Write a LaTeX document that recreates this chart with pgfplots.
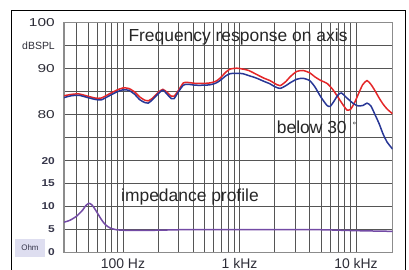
\documentclass[border=0pt]{standalone}
\usepackage{graphicx}
\usepackage{pgfplots}
\usepackage{pgfplotstable}
\pgfplotsset{compat=1.18}
\usepackage{fontspec}
\setmainfont{Liberation Sans}
\definecolor{cred}{RGB}{228,38,40}
\definecolor{cblue}{RGB}{40,55,150}
\definecolor{cpurp}{RGB}{115,75,165}
\definecolor{cgrid}{RGB}{85,85,85}
\definecolor{clab}{RGB}{45,45,55}
\definecolor{olab}{RGB}{55,55,75}
\definecolor{obox}{RGB}{222,222,240}
\newcommand{\dbl}[1]{{\fontsize{11.5}{12}\selectfont\color{clab}\scalebox{1.35}[1]{#1}}}
\newcommand{\ohl}[1]{{\fontsize{10}{11}\selectfont\bfseries\color{olab}\scalebox{1.2}[1]{#1}}}

\pgfplotstableread{
f db
31.2 84.1
36 84.4
42 84.5
50 84.0
58 83.6
65 83.6
75 84.4
88 85.3
100 85.8
112 85.7
125 85.0
140 83.8
155 83.1
165 83.0
180 83.6
200 84.8
220 85.5
240 84.8
260 84.0
275 84.0
300 85.3
330 86.9
360 87.0
420 86.8
500 86.8
560 86.9
620 87.2
680 87.9
760 89.2
830 89.9
950 90.1
1070 89.9
1200 89.6
1413 88.7
1600 88.0
1827 87.4
2000 86.8
2228 86.3
2500 87.2
2712 88.2
3100 89.4
3508 89.6
4000 89.1
4446 88.2
5000 87.4
5637 86.8
6300 85.5
7000 83.8
7700 82.2
8367 81.0
9000 81.2
9800 82.8
10400 84.3
11400 86.5
12420 87.4
13400 86.6
14550 85.2
15800 83.6
17050 82.3
18500 81.2
20560 80.2
}\onaxis

\pgfplotstableread{
f db
31.2 83.7
36 84.1
42 84.2
50 83.7
58 83.3
65 83.2
75 84.0
88 84.9
100 85.4
112 85.3
125 84.5
140 83.2
155 82.6
165 82.5
180 83.3
200 84.5
220 85.3
240 84.4
260 83.5
275 83.5
300 85.0
330 86.4
360 86.6
420 86.4
500 86.4
560 86.5
620 86.8
680 87.4
760 88.4
830 88.9
950 89.0
1070 88.9
1200 88.5
1413 87.9
1600 87.3
1827 86.7
2000 86.1
2228 85.7
2500 86.3
2712 86.9
3100 87.7
3508 87.9
4000 87.4
4446 86.0
5000 83.8
5637 82.0
6000 81.8
6500 83.0
7000 84.3
7500 84.7
8367 83.6
9500 82.4
10400 81.9
11500 82.0
12420 82.5
13400 81.9
14550 80.0
15800 78.0
17050 75.8
18500 74.0
20000 72.9
20560 72.5
}\below

\pgfplotstableread{
f ohm
31.2 6.6
35 7.0
40 7.9
45 9.2
48 10.2
51 10.7
54 10.4
58 9.3
62 8.1
66 7.0
71 6.0
78 5.3
88 4.95
100 4.85
130 4.8
200 4.85
300 4.95
500 5.0
1000 4.95
2000 5.0
5000 4.95
10000 4.75
20560 4.6
}\imped

\begin{document}
\begin{tikzpicture}
\useasboundingbox (-64bp,-17.5bp) rectangle (345bp,252.5bp);
\begin{axis}[
  at={(0,0)}, anchor=south west,
  scale only axis, width=328.5bp, height=229.8bp,
  xmode=log, xmin=31.2, xmax=20560,
  ymin=0, ymax=10,
  xtick={100,1000,10000},
  xticklabels={100 Hz,1 kHz,10 kHz},
  minor xtick={40,50,60,70,80,90,200,300,400,500,600,700,800,900,2000,3000,4000,5000,6000,7000,8000,9000},
  ytick={0,1,2,3,4,5,6,7,8,9,10},
  yticklabels={{\ohl{0}},{\ohl{5}},{\ohl{10}},{\ohl{15}},{\ohl{20}},{},{\dbl{80}},{},{\dbl{90}},{{\fontsize{10.5}{11}\selectfont\color{clab}dBSPL}},{\dbl{100}}},
  major tick length=0pt, minor tick length=0pt,
  grid=both,
  major grid style={cgrid, line width=0.8bp},
  minor grid style={cgrid, line width=0.7bp},
  axis line style={black!45, line width=1.2bp},
  xticklabel style={anchor=base, yshift=-15.6bp, font=\fontsize{14}{15}\selectfont, text=clab},
  yticklabel style={anchor=east, inner sep=0pt, xshift=-9bp},
  log ticks with fixed point,
  clip=true,
]
\addplot[cred, line width=1.5bp, smooth, tension=0.4] table[x=f, y expr=6+(\thisrow{db}-80)/5] {\onaxis};
\addplot[cblue, line width=1.5bp, smooth, tension=0.4] table[x=f, y expr=6+(\thisrow{db}-80)/5] {\below};
\addplot[cpurp, line width=1.5bp, smooth, tension=0.4] table[x=f, y expr=\thisrow{ohm}/5] {\imped};
\end{axis}
\draw[black, line width=1bp] (-52bp,-20bp) -- (-52bp,241.8bp) -- (341.5bp,241.8bp) -- (341.5bp,-20bp);
\node[anchor=base west, inner sep=0pt, font=\fontsize{17.5}{18}\selectfont, text=black!85] at (64.3bp,210.8bp) {Frequency response on axis};
\node[anchor=base west, inner sep=0pt, font=\fontsize{17.5}{18}\selectfont, text=black!85] at (212.7bp,119.2bp) {below 30\hspace{6bp}{\fontsize{9}{9}\selectfont\raisebox{5bp}{°}}};
\node[anchor=base west, inner sep=0pt, font=\fontsize{17.5}{18}\selectfont, text=black!85] at (57bp,50.8bp) {impedance profile};
\node[fill=obox, inner sep=0pt, minimum width=30bp, minimum height=17bp, font=\fontsize{8}{9}\selectfont, text=olab] at (-34bp,4.5bp) {Ohm};
\end{tikzpicture}
\end{document}
